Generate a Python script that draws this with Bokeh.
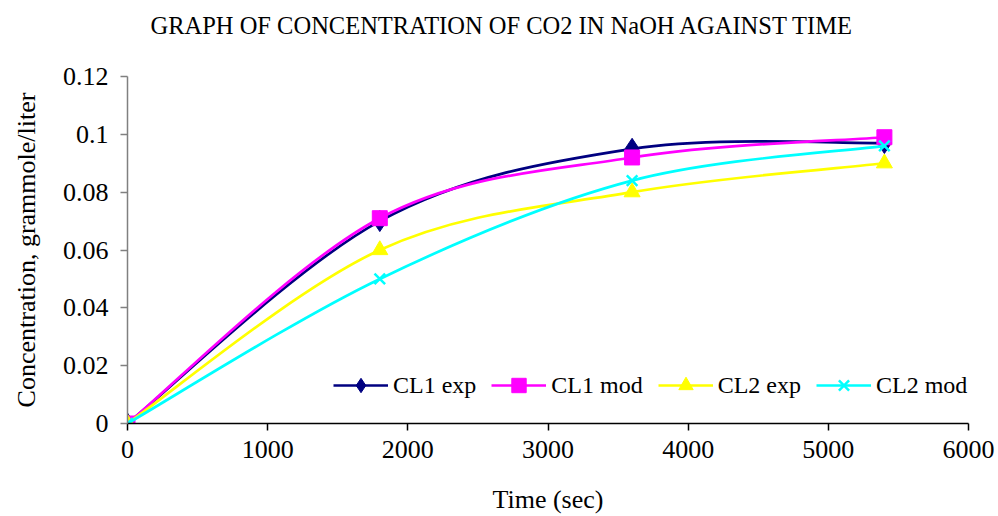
import numpy as np
from bokeh.plotting import figure
from bokeh.layouts import column
from bokeh.models import (ColumnDataSource, Range1d, FixedTicker, Legend,
                          LegendItem, Title)
from bokeh.embed import file_html
from bokeh.resources import INLINE

# ---------------- data ----------------
time_sec = [0, 1800, 3600, 5400]
cl1_exp = [0.0, 0.070, 0.095, 0.097]
cl1_mod = [0.0, 0.071, 0.092, 0.099]
cl2_exp = [0.0, 0.060, 0.080, 0.090]
cl2_mod = [0.0, 0.050, 0.084, 0.096]
series_names = ["CL1 exp", "CL1 mod", "CL2 exp", "CL2 mod"]

x_ticks = [0, 1000, 2000, 3000, 4000, 5000, 6000]
y_ticks = [0, 0.02, 0.04, 0.06, 0.08, 0.1, 0.12]
y_tick_labels = ["0", "0.02", "0.04", "0.06", "0.08", "0.1", "0.12"]

title_text = "GRAPH OF CONCENTRATION OF CO2 IN NaOH AGAINST TIME"
x_label = "Time (sec)"
y_label = "Concentration, grammole/liter"

FONT = "Liberation Serif"


def smooth_source(x, y):
    """Bezier segments (Excel-like smoothed line) through the data points."""
    x = np.asarray(x, float)
    y = np.asarray(y, float)
    n = len(x)
    idx = lambda k: min(max(k, 0), n - 1)
    d = dict(x0=[], y0=[], x1=[], y1=[], cx0=[], cy0=[], cx1=[], cy1=[])
    for i in range(n - 1):
        d["x0"].append(x[i]); d["y0"].append(y[i])
        d["x1"].append(x[i + 1]); d["y1"].append(y[i + 1])
        d["cx0"].append(x[i] + (x[idx(i + 1)] - x[idx(i - 1)]) / 6)
        d["cy0"].append(y[i] + (y[idx(i + 1)] - y[idx(i - 1)]) / 6)
        d["cx1"].append(x[i + 1] - (x[idx(i + 2)] - x[idx(i)]) / 6)
        d["cy1"].append(y[i + 1] - (y[idx(i + 2)] - y[idx(i)]) / 6)
    return ColumnDataSource(d)


# ---------------- title strip ----------------
TITLE_H = 60
pt = figure(width=998, height=TITLE_H, output_backend="svg", toolbar_location=None,
            x_axis_type=None, y_axis_type=None, min_border=0,
            x_range=Range1d(0, 1), y_range=Range1d(0, 1))
pt.outline_line_color = None
pt.grid.grid_line_color = None
pt.title = Title(text=title_text, align="left", offset=23, vertical_align="top",
                 standoff=22, text_font=FONT, text_font_size="24.5px",
                 text_font_style="normal", text_color="black")

# ---------------- main chart ----------------
p = figure(width=998, height=516 - TITLE_H, output_backend="svg",
           toolbar_location=None,
           x_range=Range1d(0, 6000), y_range=Range1d(0, 0.12),
           min_border_left=127, min_border_right=30,
           min_border_top=76 - TITLE_H, min_border_bottom=93)
p.outline_line_color = None
p.grid.grid_line_color = None
p.background_fill_color = "white"

p.xaxis.ticker = FixedTicker(ticks=x_ticks)
p.yaxis.ticker = FixedTicker(ticks=y_ticks)
p.yaxis.major_label_overrides = {t: l for t, l in zip(y_ticks, y_tick_labels)}
for ax in (p.xaxis[0], p.yaxis[0]):
    ax.minor_tick_line_color = None
    ax.major_tick_in = 0
    ax.major_tick_out = 7
    ax.major_label_text_font = FONT
    ax.major_label_text_font_size = "26px"
    ax.major_label_text_color = "black"
    ax.axis_label_text_font = FONT
    ax.axis_label_text_font_size = "26px"
    ax.axis_label_text_font_style = "normal"
    ax.axis_label_text_color = "black"
    ax.major_tick_line_width = 1.5
    ax.axis_line_width = 1.5

p.xaxis.axis_label = x_label
p.yaxis.axis_label = y_label
p.xaxis.axis_line_color = "black"
p.xaxis.major_tick_line_color = "black"
p.yaxis.axis_line_color = "#808080"
p.yaxis.major_tick_line_color = "#808080"
p.xaxis.major_label_standoff = 10
p.xaxis.axis_label_standoff = 24
p.yaxis.major_label_standoff = 12
p.yaxis.axis_label_standoff = 19

series = [
    (cl1_exp, "#000080", "diamond", 21, None),
    (cl1_mod, "#FF00FF", "square", 15, None),
    (cl2_exp, "#FFFF00", "triangle", 16, None),
    (cl2_mod, "#00FFFF", "x", 15, 2.5),
]

items = []
for name, (vals, color, marker, size, lw) in zip(series_names, series):
    src = smooth_source(time_sec, vals)
    b = p.bezier(x0="x0", y0="y0", x1="x1", y1="y1",
                 cx0="cx0", cy0="cy0", cx1="cx1", cy1="cy1",
                 source=src, line_color=color, line_width=2.7)
    kw = dict(marker=marker, size=size, fill_color=color, line_color=color)
    if lw:
        kw["line_width"] = lw
    s = p.scatter(time_sec, vals, **kw)
    items.append(LegendItem(label=name, renderers=[b, s]))

legend = Legend(items=items, orientation="horizontal", location=(206, 20),
                label_text_font=FONT, label_text_font_size="24px",
                label_text_color="black",
                glyph_width=55, glyph_height=36, label_standoff=5, spacing=15,
                padding=0, margin=0, border_line_color=None,
                background_fill_alpha=0)
p.add_layout(legend, "center")

layout = column(pt, p, spacing=0)
open("out.html", "w").write(file_html(layout, INLINE))
